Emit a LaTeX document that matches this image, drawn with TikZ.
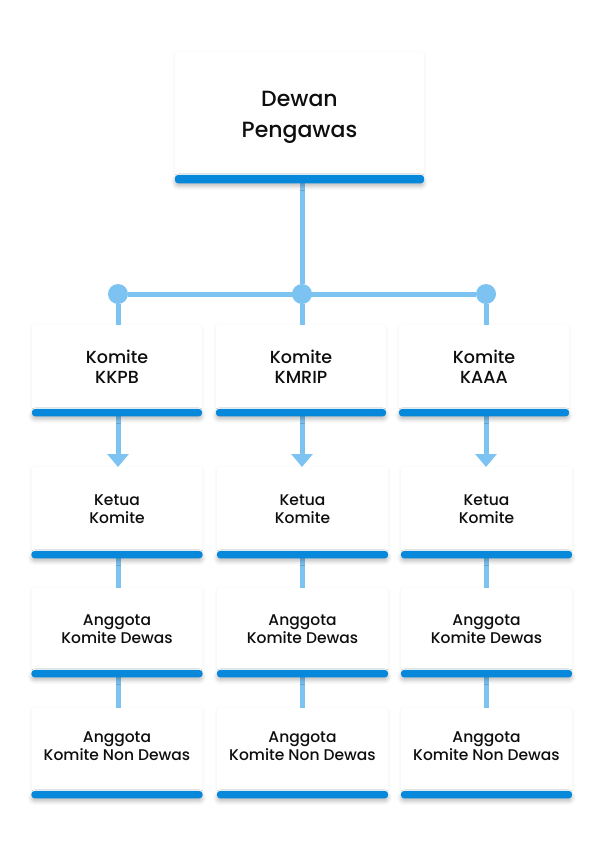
\documentclass[tikz,border=0pt]{standalone}
\usepackage{fontspec}
\setmainfont{Poppins}[UprightFont=* Medium]
\usetikzlibrary{arrows.meta,shadows.blur,backgrounds}
\definecolor{barblue}{HTML}{0888DA}
\definecolor{lineblue}{HTML}{7DC3F1}
\definecolor{txt}{HTML}{0E0E0E}
\tikzset{
  box/.style={draw=none, fill=white, rounded corners=2pt, anchor=north, align=center,
    text=txt, inner sep=0pt,
    blur shadow={shadow xshift=0pt, shadow yshift=-1pt, shadow blur radius=3pt, shadow opacity=7}},
  topbox/.style={box, minimum width=249pt, minimum height=123pt,
    font=\fontsize{22}{31}\selectfont},
  rowone/.style={box, minimum width=170pt, minimum height=84pt,
    font=\fontsize{17.5}{20}\selectfont},
  rowlow/.style={box, minimum width=171pt,
    font=\fontsize{15.5}{18}\selectfont},
  barfill/.style={fill=barblue, rounded corners=3.5pt,
    blur shadow={shadow xshift=0pt, shadow yshift=-3pt, shadow blur radius=4pt, shadow opacity=25}},
  conn/.style={draw=lineblue, line width=5pt},
  arr/.style={conn, -{Triangle[width=21pt,length=13pt]}},
  dot/.style={circle, fill=lineblue, minimum size=20pt, inner sep=0pt},
}
\newcommand{\boxbar}[2]{\path[barfill] ([yshift=0.5pt]#1.south west) rectangle ([yshift=-#2pt]#1.south east);}
\begin{document}
\begin{tikzpicture}[x=1pt,y=-1pt]
\useasboundingbox (0,0) rectangle (614,854);
% dots
\node[dot] (j1) at (118,294) {};
\node[dot] (j2) at (302,294) {};
\node[dot] (j3) at (486,294) {};
% boxes
\node[topbox] (top) at (299.5,52) {\rule{0pt}{23.5pt}Dewan\\Pengawas};
\node[rowone] (b11) at (117,325) {Komite\\KKPB};
\node[rowone] (b12) at (301,325) {Komite\\KMRIP};
\node[rowone] (b13) at (484,325) {Komite\\KAAA};
\foreach \c/\x in {1/117,2/302.5,3/486.5}{
  \node[rowlow, minimum height=84pt] (b2\c) at (\x,467) {Ketua\\Komite};
  \node[rowlow, minimum height=82pt] (b3\c) at (\x,588) {Anggota\\Komite Dewas};
  \node[rowlow, minimum height=83pt] (b4\c) at (\x,708) {Anggota\\Komite Non Dewas\rule[-7pt]{0pt}{7pt}};
}
% bars
\boxbar{top}{8}
\foreach \n in {b11,b12,b13,b21,b22,b23,b31,b32,b33,b41,b42,b43}{\boxbar{\n}{7}}
% connectors
\begin{scope}[on background layer]
\draw[conn] (j2 |- top.south) -- (j2);
\draw[conn] (j1) -- (j3);
\foreach \c in {1,2,3}{
  \draw[conn] (j\c) -- (j\c |- b1\c.north);
  \draw[arr] (j\c |- b1\c.south) -- (j\c |- b2\c.north);
  \draw[conn] (j\c |- b2\c.south) -- (j\c |- b3\c.north);
  \draw[conn] (j\c |- b3\c.south) -- (j\c |- b4\c.north);
}
\end{scope}
\end{tikzpicture}
\end{document}
